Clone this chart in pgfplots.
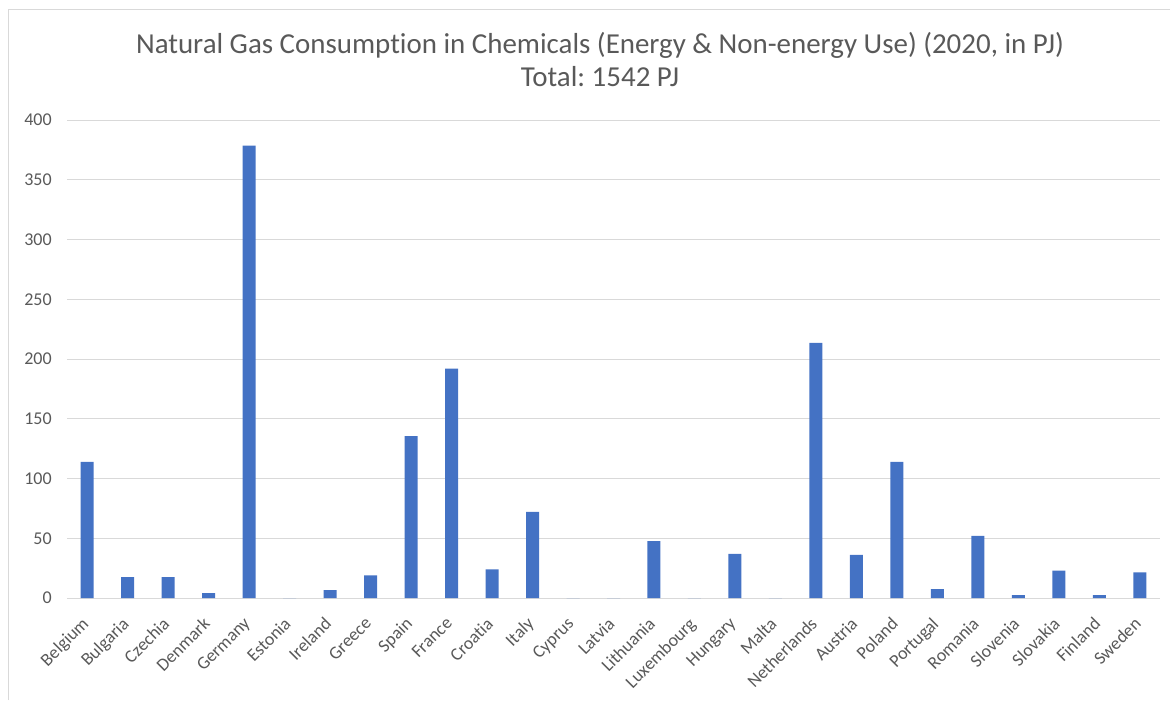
\documentclass[border=0pt]{standalone}
\usepackage{fontspec}
\setmainfont{Carlito}[Ligatures=NoCommon]
\usepackage{pgfplots}
\pgfplotsset{compat=1.18}
\definecolor{barblue}{HTML}{4472C4}
\definecolor{gridgray}{HTML}{D9D9D9}
\definecolor{txtgray}{HTML}{595959}
\frenchspacing
\begin{document}
\begin{tikzpicture}[x=1pt,y=1pt]
\useasboundingbox (0,0) rectangle (877.5,525);
\draw[gridgray, line width=0.75pt] (6,0) -- (6,517.5) -- (877.5,517.5);
\node[txtgray, font=\fontsize{21.7}{25}\selectfont] at (450,491.25) {Natural Gas Consumption in Chemicals (Energy \& Non-energy Use) (2020, in PJ)};
\node[txtgray, font=\fontsize{21.7}{25}\selectfont] at (450,467.25) {Total: 1542 PJ};
\begin{axis}[
  at={(50.25pt,76.5pt)}, anchor=south west,
  scale only axis, width=819.75pt, height=358.5pt,
  xmin=-0.5, xmax=26.5, ymin=0, ymax=400,
  ytick={0,50,...,400},
  xtick={0,...,26},
  xticklabels={Belgium,Bulgaria,Czechia,Denmark,Germany,Estonia,Ireland,Greece,Spain,France,Croatia,Italy,Cyprus,Latvia,Lithuania,Luxembourg,Hungary,Malta,Netherlands,Austria,Poland,Portugal,Romania,Slovenia,Slovakia,Finland,Sweden},
  major tick length=0,
  ymajorgrids, grid style={gridgray, line width=0.75pt},
  axis x line*=bottom, axis y line*=left,
  x axis line style={gridgray, line width=0.75pt, -},
  y axis line style={draw=none},
  tick label style={txtgray, font=\fontsize{13.5}{16}\selectfont},
  /pgf/number format/assume math mode=true,
  yticklabel style={anchor=east, xshift=-8pt},
  xticklabel style={rotate=45, anchor=north east, inner sep=1pt, xshift=-12pt, yshift=-5pt},
  ybar, bar width=9.75pt,
]
\addplot[fill=barblue, draw=none] coordinates {
(0,114) (1,17.5) (2,17.5) (3,4) (4,378.5) (5,0) (6,6.5) (7,19) (8,135.5) (9,192)
(10,24) (11,72) (12,0) (13,0) (14,47.5) (15,0) (16,37) (17,0) (18,213.5) (19,36)
(20,114) (21,7.5) (22,52) (23,2.5) (24,23) (25,2.5) (26,21.5)
};
\end{axis}
\end{tikzpicture}
\end{document}
